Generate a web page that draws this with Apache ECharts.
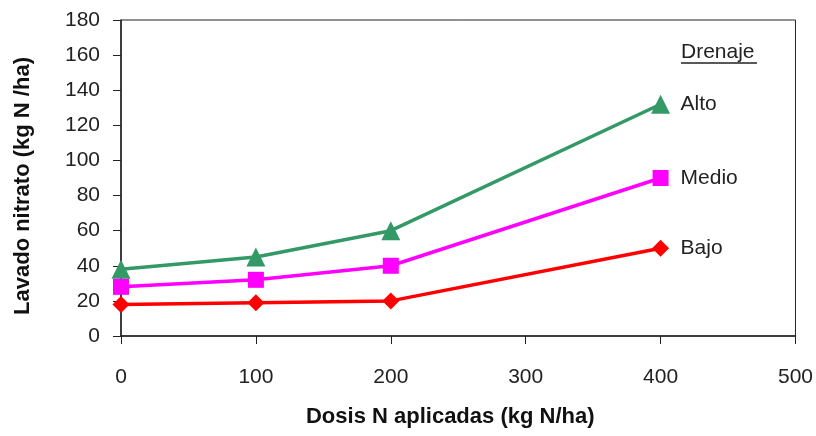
<!DOCTYPE html>
<html>
<head>
<meta charset="utf-8">
<script src="https://cdn.jsdelivr.net/npm/echarts@6/dist/echarts.min.js"></script>
<style>html,body{margin:0;padding:0;background:#fff}#c{width:816px;height:436px}</style>
</head>
<body>
<div id="c"></div>
<script>
const doses = [0, 100, 200, 400];
const alto = [38, 45, 60, 132];
const medio = [28, 32, 40, 90];
const bajo = [18, 19, 20, 50];
const seriesNames = ['Alto', 'Medio', 'Bajo'];
const legendTitle = 'Drenaje';
const xTitle = 'Dosis N aplicadas (kg N/ha)';
const yTitle = 'Lavado nitrato (kg N /ha)';

const FN = "'Liberation Sans Narrow', 'Arial Narrow', 'Liberation Sans', Arial, sans-serif";
const chart = echarts.init(document.getElementById('c'), null, {renderer: 'canvas'});
function mk(name, vals, color, symbol, size) {
  return {
    name: name, type: 'line', data: doses.map((d, i) => [d, vals[i]]),
    symbol: symbol, symbolSize: size,
    lineStyle: {color: color, width: 3.5},
    itemStyle: {color: color},
    animation: false,
    endLabel: {show: true, formatter: '{a}', color: '#222', fontFamily: FN, fontSize: 21, distance: 20}
  };
}
chart.setOption({
  animation: false,
  grid: {left: 121, right: 20, top: 20, bottom: 100, show: true, borderColor: '#222', borderWidth: 1, backgroundColor: 'transparent'},
  title: {text: legendTitle, left: 681, top: 42, padding: 0, textStyle: {fontFamily: FN, fontSize: 21, fontWeight: 'normal', color: '#222'}},
  graphic: [{type: 'line', shape: {x1: 681, y1: 63, x2: 757, y2: 63}, style: {stroke: '#222', lineWidth: 1.5}}],
  xAxis: {
    type: 'value', min: 0, max: 500, interval: 100,
    name: xTitle, nameLocation: 'middle', nameGap: 70,
    nameTextStyle: {fontFamily: FN, fontSize: 22, fontWeight: 'bold', color: '#111', padding: [0, 16, 0, 0]},
    axisLine: {show: true, lineStyle: {color: '#222', width: 1.5}},
    axisTick: {show: true, inside: false, length: 8, lineStyle: {color: '#222'}},
    axisLabel: {fontFamily: FN, fontSize: 21, color: '#222', margin: 31},
    splitLine: {show: false}
  },
  yAxis: {
    type: 'value', min: 0, max: 180, interval: 20,
    name: yTitle, nameLocation: 'middle', nameGap: 87, nameRotate: 90,
    nameTextStyle: {fontFamily: FN, fontSize: 22, fontWeight: 'bold', color: '#111', padding: [0, 16, 0, 0]},
    axisLine: {show: true, lineStyle: {color: '#222', width: 1.5}},
    axisTick: {show: true, inside: false, length: 8, lineStyle: {color: '#222'}},
    axisLabel: {fontFamily: FN, fontSize: 21, color: '#222', margin: 21},
    splitLine: {show: false}
  },
  series: [
    mk(seriesNames[0], alto, '#339966', 'triangle', 19),
    mk(seriesNames[1], medio, '#ff00ff', 'rect', 16),
    mk(seriesNames[2], bajo, '#ff0000', 'diamond', 17)
  ]
});
</script>
</body>
</html>
